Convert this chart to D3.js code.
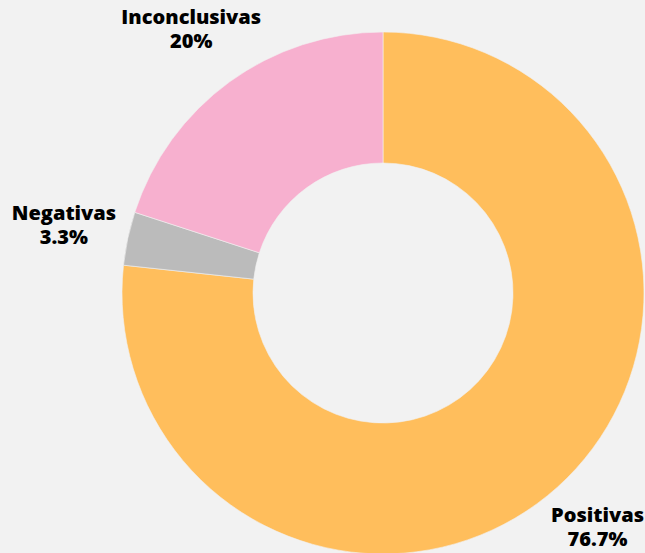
<!DOCTYPE html>
<html><head><meta charset="utf-8">
<script src="https://cdn.jsdelivr.net/npm/d3@7"></script>
<style>html,body{margin:0;padding:0;background:#F2F2F2;}svg{display:block;}</style>
</head><body>
<svg id="c" width="645" height="553"></svg>
<script>
const categories = ["Positivas", "Negativas", "Inconclusivas"];
const values = [76.7, 3.3, 20];
const valueLabels = ["76.7%", "3.3%", "20%"];
const colors = ["#FFBE5C", "#BBBBBB", "#F7B0CF"];

const W = 645, H = 553, cx = 383, cy = 293, R = 261, r = 130;
const svg = d3.select("#c");
svg.append("rect").attr("width", W).attr("height", H).attr("fill", "#F2F2F2");
const g = svg.append("g").attr("transform", `translate(${cx},${cy})`);
const data = categories.map((c, i) => ({cat: c, value: values[i], label: valueLabels[i], color: colors[i]}));
const pie = d3.pie().value(d => d.value).sort(null);
const arc = d3.arc().innerRadius(r).outerRadius(R);
const arcs = pie(data);
g.selectAll("path").data(arcs).join("path")
  .attr("d", arc).attr("fill", d => d.data.color)
  .attr("stroke", "#F2F2F2").attr("stroke-width", 0.6);
const labelArc = d3.arc().innerRadius(R * 1.25).outerRadius(R * 1.25);
const lab = g.selectAll("text").data(arcs).join("text")
  .attr("transform", d => `translate(${labelArc.centroid(d)})`)
  .attr("text-anchor", "middle")
  .attr("font-family", "'Open Sans', sans-serif")
  .attr("font-weight", 800).attr("font-size", 20).attr("fill", "#000");
lab.append("tspan").attr("x", 0).attr("y", -5).text(d => d.data.cat);
lab.append("tspan").attr("x", 0).attr("y", 19).text(d => d.data.label);
// keep labels inside the canvas
lab.each(function(d) {
  const [px, py] = labelArc.centroid(d);
  const b = this.getBBox();
  let dx = 0, dy = 0;
  const left = cx + px + b.x, right = left + b.width;
  const top = cy + py + b.y, bottom = top + b.height;
  if (right > W - 1) dx = W - 1 - right;
  if (left < 1) dx = 1 - left;
  if (bottom > H - 1) dy = H - 1 - bottom;
  if (top < 1) dy = 1 - top;
  d3.select(this).attr("transform", `translate(${px + dx},${py + dy})`);
});
</script>
</body></html>
